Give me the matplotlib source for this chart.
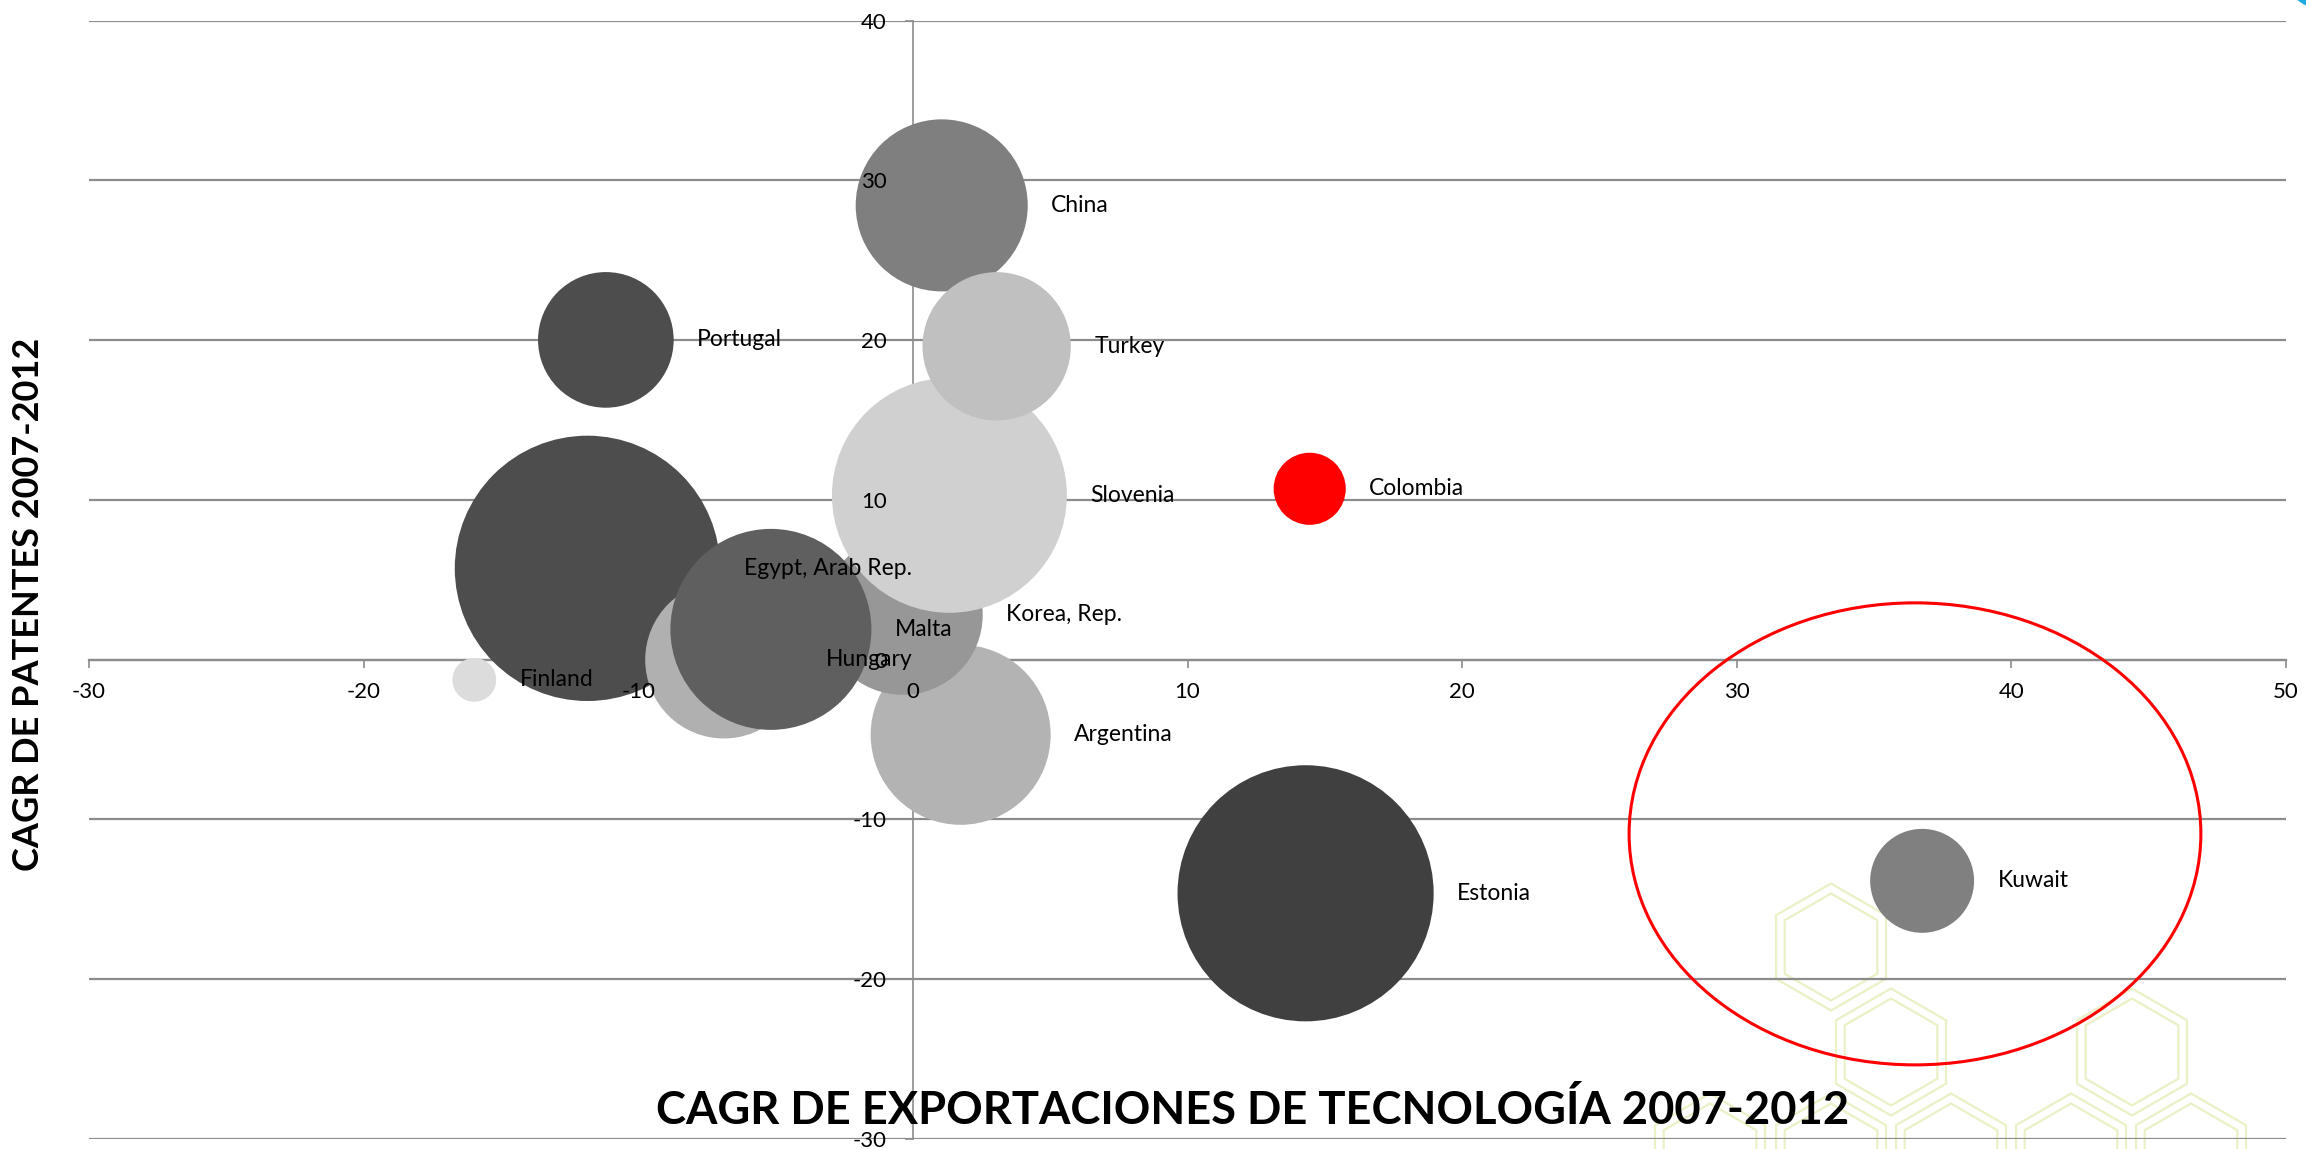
import numpy as np
import matplotlib.pyplot as plt
from matplotlib import markers
from matplotlib.patches import Ellipse, RegularPolygon, Circle

plt.rcParams['font.family'] = ['Lato', 'DejaVu Sans']
plt.rcParams['axes.unicode_minus'] = False

# países en orden alfabético (así se apilan las burbujas)
paises = ["Argentina", "China", "Colombia", "Egypt, Arab Rep.", "Estonia", "Finland",
          "Hungary", "Korea, Rep.", "Kuwait", "Malta", "Portugal", "Slovenia", "Turkey"]
cagr_export = [1.74, 1.05, 14.45, -11.85, 14.30, -15.97, -6.88, -0.37, 36.75, -5.17, -11.18, 1.33, 3.05]
cagr_patentes = [-4.70, 28.44, 10.7, 5.72, -14.62, -1.26, 0.0, 2.81, -13.84, 1.90, 20.02, 10.29, 19.62]
tamano = [81, 74, 13, 176, 164, 4.8, 62, 64, 27, 101, 46, 138, 55]
colores = ["#b3b3b3", "#7f7f7f", "#ff0000", "#4d4d4d", "#404040", "#dcdcdc",
           "#b0b0b0", "#979797", "#808080", "#5f5f5f", "#4d4d4d", "#d0d0d0", "#c0c0c0"]

xticks = list(range(-30, 51, 10))
yticks = list(range(-30, 41, 10))

# zona destacada alrededor de Kuwait
zona_centro = (36.49, -10.9)
zona_ancho, zona_alto = 20.82, 28.92

fig = plt.figure(figsize=(23.06, 11.49), dpi=100)
fig.patch.set_facecolor("white")

# fondo decorativo de hexágonos (en píxeles de la figura)
fondo = fig.add_axes([0, 0, 1, 1], zorder=0)
fondo.set_xlim(0, 2306)
fondo.set_ylim(1149, 0)
fondo.axis("off")
hexes = [(1831, 947), (1891, 1052), (2132, 1052),
         (1710, 1157), (1831, 1157), (1951, 1157), (2071, 1157), (2191, 1157)]
for cx, cy in hexes:
    for r in (63.5, 53.5):
        fondo.add_patch(RegularPolygon((cx, cy), 6, radius=r, fill=False,
                                       ec="#ecf0c6", lw=1.6, joinstyle="round"))
fondo.add_patch(Circle((2318, -22), 30, color="#1fa9e1", lw=0))

ax = fig.add_axes([89 / 2306, 1 - 1139 / 1149, (2286 - 89) / 2306, (1139 - 20.7) / 1149], zorder=1)
ax.patch.set_alpha(0)
ax.set_xlim(-30, 50)
ax.set_ylim(-30, 40)

for v in yticks:
    ax.axhline(v, color="#8c8c8c", lw=1.6, zorder=0.5)

ax.spines["left"].set_position(("data", 0))
ax.spines["bottom"].set_position(("data", 0))
ax.spines["top"].set_visible(False)
ax.spines["right"].set_visible(False)
ax.spines["left"].set_color("#8c8c8c")
ax.spines["bottom"].set_color("#8c8c8c")
ax.spines["left"].set_linewidth(1.2)
ax.spines["bottom"].set_linewidth(1.6)
ax.spines["left"].set_zorder(0.6)
ax.spines["bottom"].set_zorder(0.6)

# marcas de graduación dibujadas a mano para que queden bajo las burbujas
ax.plot(xticks, [0] * len(xticks), ls="none", marker=markers.TICKDOWN, ms=5.8,
        mew=1.2, mec="#8c8c8c", clip_on=False, zorder=0.6)
ax.plot([0] * len(yticks), yticks, ls="none", marker=markers.TICKLEFT, ms=5.8,
        mew=1.2, mec="#8c8c8c", clip_on=False, zorder=0.6)

ax.set_xticks(xticks)
ax.set_yticks(yticks)
ax.tick_params(axis="x", length=0, labelsize=16, pad=16.3)
ax.tick_params(axis="y", length=0, labelsize=16, pad=18.8)
# etiquetas de los ejes por encima de las burbujas
ax.xaxis.set_zorder(3)
ax.yaxis.set_zorder(3)

sizes = np.array(tamano) * 207.36
ax.scatter(cagr_export, cagr_patentes, s=sizes, c=colores, linewidths=0, zorder=2)

for nombre, x, y, s in zip(paises, cagr_export, cagr_patentes, sizes):
    ax.annotate(nombre, (x, y), xytext=(np.sqrt(s) / 2 + 17, 0), textcoords="offset points",
                ha="left", va="center", fontsize=16.5, zorder=5)

ax.add_patch(Ellipse(zona_centro, zona_ancho, zona_alto, fill=False, ec="red", lw=2.2, zorder=4))

fig.text(1253 / 2306, 25 / 1149, "CAGR DE EXPORTACIONES DE TECNOLOGÍA 2007-2012",
         ha="center", va="baseline", fontsize=32.6, fontweight="bold", zorder=10)
fig.text(29 / 2306, 1 - 604 / 1149, "CAGR DE PATENTES 2007-2012", rotation=90,
         ha="center", va="center", fontsize=26, fontweight="bold", zorder=10)

fig.savefig("out.png", dpi=100)
